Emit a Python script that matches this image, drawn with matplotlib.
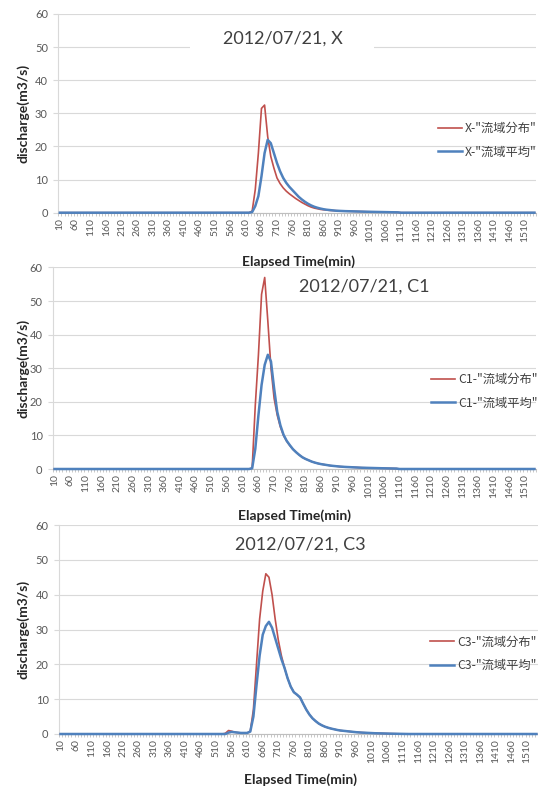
"""
Three discharge hydrographs for the 2012/07/21 event (X, C1, C3),
distributed-basin vs. basin-average runoff model.
"""

import numpy as np
import matplotlib
matplotlib.use('agg')
import matplotlib.pyplot as plt
from matplotlib.patches import Rectangle

##################################################################################
###                                  DATA                                      ###
##################################################################################

# elapsed time categories (min), every 10 minutes
times = list(range(10, 1550, 10))
label_every = 5

# discharge is zero outside the event window; window values start at this time
event_start = 540

# X station (m3/s), 540 .. 1100 min
x_dist = [0, 0, 0, 0, 0, 0, 0, 0, 0, 0.5,
          7, 18, 31.5, 32.5, 23, 17, 13.5, 10.5, 8.8, 7.5,
          6.5, 5.7, 5.0, 4.3, 3.7, 3.1, 2.6, 2.1, 1.7, 1.4,
          1.2, 1.0, 0.9, 0.8, 0.7, 0.65, 0.6, 0.55, 0.5, 0.47,
          0.44, 0.41, 0.38, 0.35, 0.33, 0.31, 0.29, 0.27, 0.25, 0.23,
          0.21, 0.19, 0.17, 0.15, 0.13, 0.11, 0.1]
x_avg = [0, 0, 0, 0, 0, 0, 0, 0, 0, 0.2,
         2, 5, 11, 18, 22, 21, 18, 15, 12.5, 10.5,
         9, 7.8, 6.8, 5.8, 4.8, 4.0, 3.3, 2.7, 2.2, 1.8,
         1.5, 1.25, 1.05, 0.9, 0.8, 0.7, 0.6, 0.55, 0.5, 0.47,
         0.44, 0.41, 0.38, 0.35, 0.33, 0.31, 0.29, 0.27, 0.25, 0.23,
         0.21, 0.19, 0.17, 0.15, 0.13, 0.11, 0.1]

# C1 station
c1_dist = [0, 0, 0, 0, 0, 0, 0, 0, 0, 0,
           0.3, 19, 34, 52, 57, 44, 30, 21, 16, 12.5,
           10, 8.3, 7, 5.9, 5.0, 4.2, 3.5, 3.0, 2.6, 2.2,
           1.9, 1.65, 1.45, 1.3, 1.15, 1.0, 0.9, 0.8, 0.72, 0.65,
           0.6, 0.55, 0.5, 0.46, 0.42, 0.38, 0.35, 0.32, 0.29, 0.27,
           0.25, 0.23, 0.21, 0.19, 0.17, 0.15, 0.13]
c1_avg = [0, 0, 0, 0, 0, 0, 0, 0, 0, 0,
          0.2, 6, 16, 25, 31, 34, 32, 24, 17, 13,
          10.2, 8.4, 7.1, 5.9, 5.0, 4.2, 3.5, 3.0, 2.6, 2.2,
          1.9, 1.65, 1.45, 1.3, 1.15, 1.0, 0.9, 0.8, 0.72, 0.65,
          0.6, 0.55, 0.5, 0.46, 0.42, 0.38, 0.35, 0.32, 0.29, 0.27,
          0.25, 0.23, 0.21, 0.19, 0.17, 0.15, 0.13]

# C3 station
c3_dist = [0.2, 1.0, 0.8, 0.5, 0.4, 0.3, 0.3, 0.3, 0.8, 7,
           20, 33, 41, 46, 45, 40, 33, 27, 22.5, 19,
           16, 13.6, 12, 11.3, 10.5, 8.7, 7.0, 5.6, 4.5, 3.7,
           3.0, 2.5, 2.1, 1.8, 1.55, 1.35, 1.15, 1.0, 0.9, 0.8,
           0.7, 0.6, 0.52, 0.45, 0.4, 0.35, 0.3, 0.26, 0.22, 0.19,
           0.16, 0.14, 0.12, 0.1, 0.08, 0.06, 0.05]
c3_avg = [0, 0.4, 0.6, 0.5, 0.4, 0.3, 0.3, 0.3, 0.7, 5,
          14, 22.5, 28.5, 31, 32.2, 30.5, 27.5, 24.5, 21.5, 19,
          16, 13.6, 12, 11.3, 10.5, 8.7, 7.0, 5.6, 4.5, 3.7,
          3.0, 2.5, 2.1, 1.8, 1.55, 1.35, 1.15, 1.0, 0.9, 0.8,
          0.7, 0.6, 0.52, 0.45, 0.4, 0.35, 0.3, 0.26, 0.22, 0.19,
          0.16, 0.14, 0.12, 0.1, 0.08, 0.06, 0.05]

titles = ["2012/07/21, X", "2012/07/21, C1", "2012/07/21, C3"]
stations = ["X", "C1", "C3"]
dist_series = [x_dist, c1_dist, c3_dist]
avg_series = [x_avg, c1_avg, c3_avg]

##################################################################################
###                                 LAYOUT                                     ###
##################################################################################

W, H = 538, 789
RED = '#C0504D'
BLUE = '#4F81BD'
GRID = '#d9d9d9'
TXT = '#595959'

# pixel boxes: (left, top, right, bottom) of each plot area
plot_boxes = [(58.3, 14, 536, 212.7), (53, 267.4, 536, 469), (59, 525, 538, 734)]
title_pos = [(283, 39), (364, 287), (300, 545)]
xlabel_pos = [(298, 262), (295, 516), (301, 780)]
legend_pos = [(438, 140.2), (431, 391.3), (430, 653.7)]


def fx(px):
    return px / W


def fy(py):
    return 1 - py / H


def full_series(values):
    # place the event window into the full time axis
    out = np.zeros(len(times))
    i0 = times.index(event_start)
    out[i0:i0 + len(values)] = values
    return out


fig = plt.figure(figsize=(W / 100, H / 100), dpi=100)
idx = np.arange(len(times))
cjk = ['Noto Sans CJK JP', 'DejaVu Sans']

for k in range(3):
    l, t, r, b = plot_boxes[k]
    ax = fig.add_axes([fx(l), fy(b), (r - l) / W, (b - t) / H])
    ax.set_axisbelow(True)

    ax.plot(idx, full_series(dist_series[k]), color=RED, lw=1.2, zorder=3,
            clip_on=False, label=f'{stations[k]}-"流域分布"')
    ax.plot(idx, full_series(avg_series[k]), color=BLUE, lw=1.8, zorder=4,
            clip_on=False, label=f'{stations[k]}-"流域平均"')

    ax.set_xlim(-0.5, len(times) - 0.5)
    ax.set_ylim(0, 60)
    ax.set_yticks(range(0, 61, 10))
    ax.grid(axis='y', color=GRID, lw=0.8)

    ax.set_xticks(idx[::label_every])
    ax.set_xticklabels([str(v) for v in times[::label_every]], rotation=90,
                       fontsize=7.5, color=TXT, family='Lato')
    ax.set_xticks(np.arange(-0.5, len(times), 1), minor=True)
    ax.tick_params(axis='x', which='major', length=0, pad=4)
    ax.tick_params(axis='x', which='minor', length=2.5, color='#bfbfbf', width=0.6)
    ax.tick_params(axis='y', length=3.5, color=GRID, pad=4, labelsize=8,
                   labelcolor=TXT)
    for lab in ax.get_yticklabels():
        lab.set_family('Lato')

    for side in ['top', 'right']:
        ax.spines[side].set_visible(False)
    ax.spines['left'].set_color(GRID)
    ax.spines['bottom'].set_color('#bfbfbf')

    # white box behind the first title hides the gridline
    if k == 0:
        ax.add_patch(Rectangle((fx(190), fy(55)), (374 - 190) / W, 28 / H,
                               transform=fig.transFigure, facecolor='white',
                               edgecolor='none', zorder=1))

    fig.text(fx(title_pos[k][0]), fy(title_pos[k][1]), titles[k], ha='center',
             va='center', fontsize=13, family='Lato', color='#404040')
    fig.text(fx(xlabel_pos[k][0]), fy(xlabel_pos[k][1]), "Elapsed Time(min)",
             ha='center', va='center', fontsize=10, family='Lato',
             fontweight='bold', color='#262626')
    fig.text(fx(23), fy((t + b) / 2), "discharge(m3/s)", rotation=90,
             ha='center', va='center', fontsize=10, family='Lato',
             fontweight='bold', color='#262626')

    ax.legend(loc='center left', bbox_to_anchor=(fx(legend_pos[k][0]), fy(legend_pos[k][1])),
              bbox_transform=fig.transFigure, frameon=False, borderpad=0,
              borderaxespad=0, handlelength=2.0, handletextpad=0.2,
              labelspacing=0.85, prop=dict(family=cjk, size=8.8), labelcolor='#404040')

fig.savefig('out.png', dpi=100)
